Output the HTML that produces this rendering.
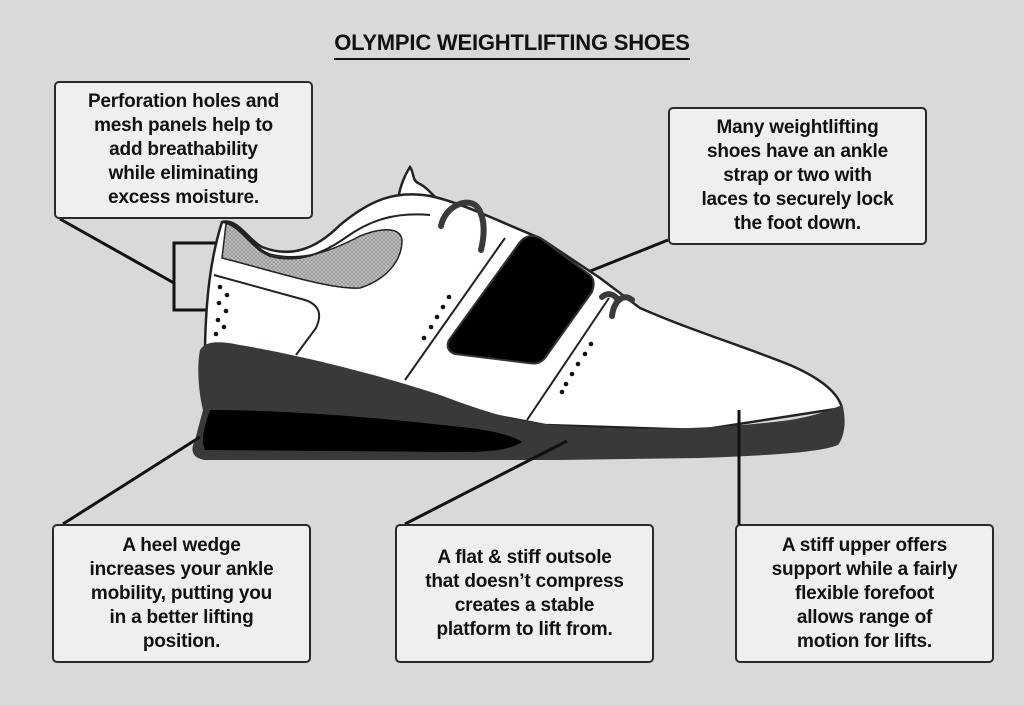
<!DOCTYPE html>
<html><head><meta charset="utf-8"><style>
body{margin:0;width:1024px;height:705px;background:#d9d9d9;overflow:hidden;position:relative;font-family:"Liberation Sans",sans-serif}
.t{position:absolute;left:0;width:1024px;top:30px;text-align:center;font-weight:bold;font-size:22px;color:#111;letter-spacing:-0.2px}
.t span{border-bottom:2px solid #111;padding-bottom:3px}
.b{position:absolute;background:#efefef;border:2px solid #2a2a2a;border-radius:5px;box-sizing:border-box;display:flex;align-items:center;justify-content:center;text-align:center;font-weight:bold;font-size:19px;line-height:24px;color:#111;letter-spacing:-0.2px}
svg{position:absolute;left:0;top:0}
</style></head><body>
<svg width="1024" height="705" viewBox="0 0 1024 705">
<defs><pattern id="m" width="4" height="4" patternUnits="userSpaceOnUse"><rect width="4" height="4" fill="#c8c8c8"/><path d="M0 0L4 4M4 0L0 4" stroke="#888" stroke-width="0.7"/></pattern></defs>
<g stroke="#111" stroke-width="3" fill="none">
<path d="M60 219 L174 283"/>
<path d="M228 243 H174 V310 H228"/>
<path d="M668 240 L588 272"/>
</g>
<path d="M398 200 C400 185 405 175 410 167 C414 172 412 180 418 183 C425 186 430 192 436 198 L470 215 L420 215 Z" fill="#fff" stroke="#222" stroke-width="2.5"/>
<path d="M205 347 C206 300 210 260 222 222 C238 218 248 240 262 247 C290 258 315 250 340 225 C370 200 395 190 430 196 C460 202 500 222 540 238 L600 278 L640 308 C690 330 740 345 790 365 C820 378 838 392 842 408 L700 430 L545 425 L205 360 Z" fill="#fff" stroke="#222" stroke-width="2.5"/>
<path d="M226 224 C240 222 252 248 270 254 C300 262 330 252 360 236 C380 228 400 226 402 240 C402 262 385 280 360 288 C330 290 270 270 222 258 Z" fill="url(#m)" stroke="#222" stroke-width="1.5"/>
<path d="M222 222 C240 224 250 248 270 256 C300 264 325 252 345 238 C370 220 395 212 430 215" fill="none" stroke="#222" stroke-width="2"/>
<path d="M214 275 L305 300 C320 305 322 315 316 328 L296 355" fill="none" stroke="#222" stroke-width="2"/>
<path d="M405 380 L505 238" fill="none" stroke="#222" stroke-width="2"/>
<path d="M527 420 L609 298" fill="none" stroke="#222" stroke-width="2"/>
<path d="M540 238 L590 275 C595 280 594 286 592 292 L545 358 C540 364 535 364 528 363 L455 354 C448 352 446 346 449 340 L520 242 C525 236 532 234 540 238 Z" fill="#000" stroke="#333" stroke-width="2"/>
<g stroke="#3a3a3a" stroke-width="6" fill="none" stroke-linecap="round">
<path d="M441 226 C445 205 470 196 478 208 C486 220 484 238 481 250"/>
<path d="M612 316 C614 300 624 293 632 300"/>
<path d="M602 297 C608 292 614 294 618 300"/>
</g>
<path d="M200 350 C205 342 215 340 240 345 C300 355 380 375 440 395 C480 410 510 420 545 424 C600 430 700 432 790 420 C815 416 830 410 842 405 C846 415 846 435 838 445 C820 452 780 455 700 458 L560 460 L205 460 C192 458 190 450 195 440 L203 410 C198 390 197 365 200 350 Z" fill="#3a383a"/>
<path d="M210 410 C300 410 400 420 470 428 C500 432 515 437 522 442 C510 450 490 452 460 452 L205 450 C200 440 205 425 210 410 Z" fill="#000"/>
<g fill="#111">
<circle cx="220" cy="287" r="2.3"/><circle cx="227" cy="295" r="2.3"/><circle cx="219" cy="303" r="2.3"/><circle cx="226" cy="311" r="2.3"/><circle cx="218" cy="320" r="2.3"/><circle cx="224" cy="327" r="2.3"/><circle cx="216" cy="334" r="2.3"/>
<circle cx="449" cy="297" r="2.3"/><circle cx="443" cy="307" r="2.3"/><circle cx="437" cy="317" r="2.3"/><circle cx="431" cy="327" r="2.3"/><circle cx="424" cy="338" r="2.3"/>
<circle cx="591" cy="344" r="2.3"/><circle cx="585" cy="354" r="2.3"/><circle cx="578" cy="364" r="2.3"/><circle cx="572" cy="374" r="2.3"/><circle cx="566" cy="384" r="2.3"/><circle cx="562" cy="392" r="2.3"/>
</g>
<g stroke="#111" stroke-width="3" fill="none">
<path d="M63 524 L200 437"/>
<path d="M405 524 L567 441"/>
<path d="M739 410 V525"/>
</g>
</svg>
<div class="t"><span>OLYMPIC WEIGHTLIFTING SHOES</span></div>
<div class="b" style="left:54px;top:81px;width:259px;height:138px">Perforation holes and<br>mesh panels help to<br>add breathability<br>while eliminating<br>excess moisture.</div>
<div class="b" style="left:668px;top:107px;width:259px;height:138px">Many weightlifting<br>shoes have an ankle<br>strap or two with<br>laces to securely lock<br>the foot down.</div>
<div class="b" style="left:52px;top:524px;width:259px;height:139px">A heel wedge<br>increases your ankle<br>mobility, putting you<br>in a better lifting<br>position.</div>
<div class="b" style="left:395px;top:524px;width:259px;height:139px">A flat &amp; stiff outsole<br>that doesn’t compress<br>creates a stable<br>platform to lift from.</div>
<div class="b" style="left:735px;top:524px;width:259px;height:139px">A stiff upper offers<br>support while a fairly<br>flexible forefoot<br>allows range of<br>motion for lifts.</div>
</body></html>
